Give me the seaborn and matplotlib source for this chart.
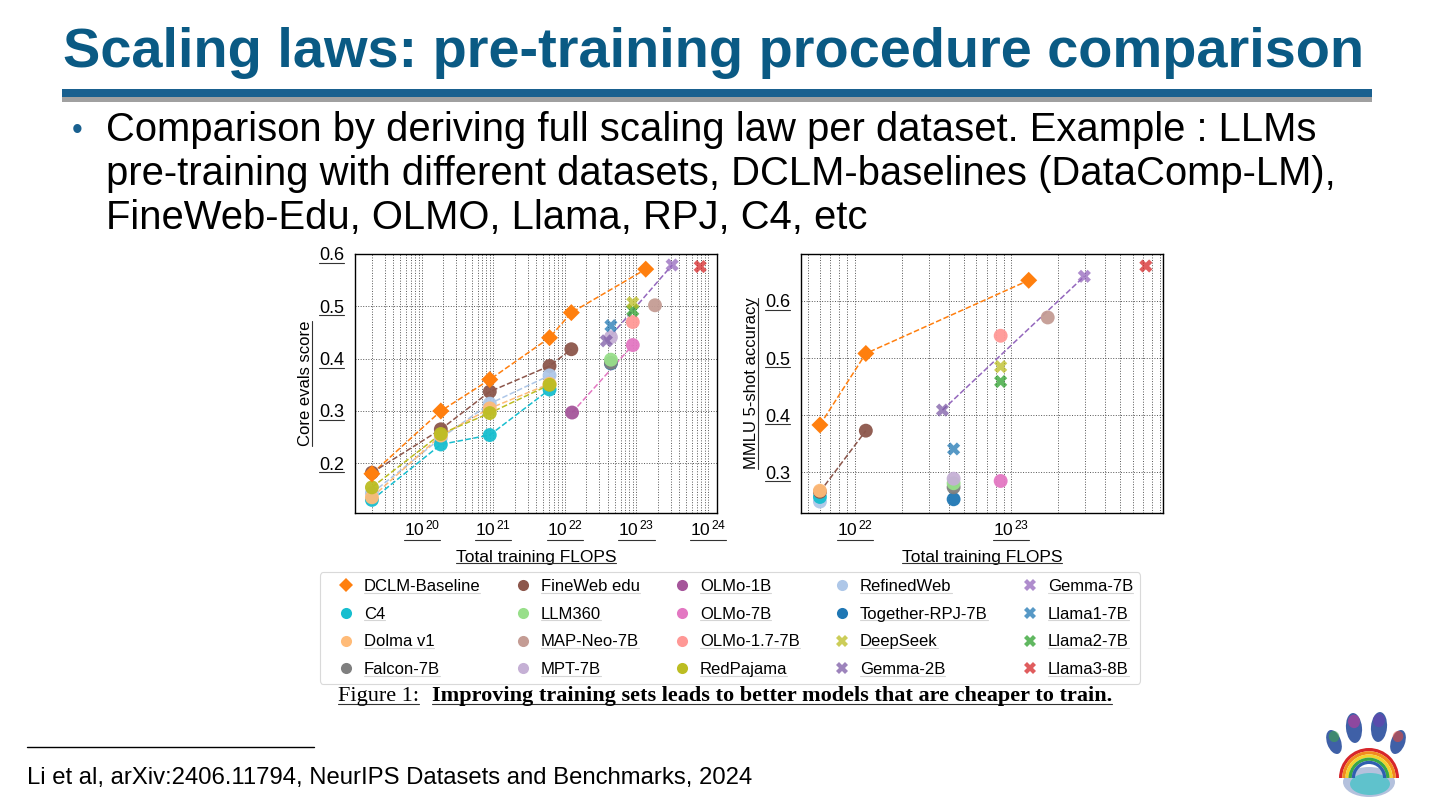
import numpy as np
import pandas as pd
import matplotlib
matplotlib.use("Agg")
import matplotlib.pyplot as plt
import seaborn as sns
from matplotlib.lines import Line2D
from matplotlib.patches import Rectangle, Ellipse, Wedge
from matplotlib.ticker import LogLocator, FixedLocator, FuncFormatter, NullFormatter

W, H = 1440, 811

# legend order (column-major, 5 columns x 4 rows)
models = ["DCLM-Baseline", "C4", "Dolma v1", "Falcon-7B",
          "FineWeb edu", "LLM360", "MAP-Neo-7B", "MPT-7B",
          "OLMo-1B", "OLMo-7B", "OLMo-1.7-7B", "RedPajama",
          "RefinedWeb", "Together-RPJ-7B", "DeepSeek", "Gemma-2B",
          "Gemma-7B", "Llama1-7B", "Llama2-7B", "Llama3-8B"]
model_colors = ["#ff7f0e", "#17becf", "#ffbb78", "#7f7f7f",
                "#8c564b", "#98df8a", "#c49c94", "#c5b0d5",
                "#a5559a", "#e377c2", "#ff9896", "#bcbd22",
                "#aec7e8", "#1f77b4", "#bcbd22", "#7d5ba6",
                "#9467bd", "#1f77b4", "#2ca02c", "#d62728"]
model_markers = ["D", "o", "o", "o",
                 "o", "o", "o", "o",
                 "o", "o", "o", "o",
                 "o", "o", "X", "X",
                 "X", "X", "X", "X"]

# left panel: Core evals score vs total training FLOPS
core_model = ["DCLM-Baseline"] * 6 + ["FineWeb edu"] * 5 + ["RefinedWeb"] * 4 + ["C4"] * 4 \
    + ["Dolma v1"] * 4 + ["RedPajama"] * 4 \
    + ["OLMo-1B", "OLMo-7B", "OLMo-1.7-7B", "Together-RPJ-7B", "Falcon-7B", "LLM360", "MPT-7B",
       "MAP-Neo-7B", "Gemma-2B", "Gemma-7B", "Llama1-7B", "Llama2-7B", "DeepSeek", "Llama3-8B"]
core_flops = [2.0e19, 1.84e20, 8.9e20, 6.1e21, 1.23e22, 1.35e23,
              2.0e19, 1.84e20, 8.9e20, 6.1e21, 1.23e22,
              2.0e19, 1.84e20, 8.9e20, 6.1e21,
              2.0e19, 1.84e20, 8.9e20, 6.1e21,
              2.0e19, 1.84e20, 8.9e20, 6.1e21,
              2.0e19, 1.84e20, 8.9e20, 6.1e21,
              1.26e22, 8.9e22, 8.9e22, 4.4e22, 4.4e22, 4.4e22, 4.4e22,
              1.82e23, 3.8e22, 3.16e23, 4.4e22, 8.9e22, 8.9e22, 7.8e23]
core_score = [0.180, 0.300, 0.360, 0.440, 0.488, 0.571,
              0.182, 0.265, 0.337, 0.386, 0.418,
              0.143, 0.248, 0.314, 0.368,
              0.130, 0.236, 0.254, 0.341,
              0.135, 0.253, 0.305, 0.352,
              0.154, 0.256, 0.296, 0.350,
              0.297, 0.426, 0.470, 0.391, 0.392, 0.398, 0.441,
              0.502, 0.434, 0.579, 0.463, 0.492, 0.507, 0.576]

# right panel: MMLU 5-shot accuracy vs total training FLOPS
mmlu_model = ["DCLM-Baseline"] * 3 + ["RefinedWeb", "C4", "FineWeb edu", "Dolma v1", "FineWeb edu",
                                      "Together-RPJ-7B", "Falcon-7B", "LLM360", "MPT-7B", "Llama1-7B",
                                      "Gemma-2B", "Gemma-7B", "OLMo-7B", "OLMo-1.7-7B", "Llama2-7B",
                                      "DeepSeek", "MAP-Neo-7B", "Llama3-8B"]
mmlu_flops = [6.0e21, 1.18e22, 1.30e23,
              6.0e21, 6.0e21, 6.0e21, 6.0e21, 1.18e22,
              4.3e22, 4.3e22, 4.3e22, 4.3e22, 4.3e22,
              3.65e22, 2.95e23, 8.6e22, 8.6e22, 8.6e22,
              8.6e22, 1.72e23, 7.3e23]
mmlu_acc = [0.383, 0.508, 0.636,
            0.249, 0.257, 0.266, 0.268, 0.373,
            0.253, 0.274, 0.281, 0.289, 0.341,
            0.409, 0.643, 0.285, 0.539, 0.459,
            0.485, 0.571, 0.661]

# models joined by one dashed line although they are separate entries
family = {"OLMo-1B": "OLMo", "OLMo-7B": "OLMo", "Gemma-2B": "Gemma", "Gemma-7B": "Gemma"}
family_colors = {"OLMo": "#e377c2", "Gemma": "#9467bd"}

color_of = dict(zip(models, model_colors))
marker_of = dict(zip(models, model_markers))

sns.set_style("white")
plt.rcParams["font.family"] = ["Liberation Sans", "DejaVu Sans"]
plt.rcParams["mathtext.fontset"] = "custom"
plt.rcParams["mathtext.rm"] = "Liberation Sans"
plt.rcParams["mathtext.it"] = "Liberation Sans:italic"
plt.rcParams["mathtext.bf"] = "Liberation Sans:bold"
for key in ["text.color", "axes.labelcolor", "xtick.color", "ytick.color"]:
    plt.rcParams[key] = "black"

fig = plt.figure(figsize=(W / 100, H / 100), dpi=100)
fig.patch.set_facecolor("white")


def fx(px):
    return px / W


def fy(py):
    return 1 - py / H


def log_label(v, pos):
    return r"$\mathregular{10^{\,%d}}$" % int(round(np.log10(v)))


def draw_panel(ax, model, flops, score, ylabel, xlim, ylim, yticks, xexps):
    df = pd.DataFrame({"model": model, "flops": flops, "score": score})
    df["group"] = df["model"].map(lambda m: family.get(m, m))
    counts = df["group"].value_counts()
    lines = df[df["group"].map(counts) > 1]
    line_pal = {g: family_colors.get(g, color_of.get(g)) for g in lines["group"].unique()}

    ax.set_xscale("log")
    sns.lineplot(data=lines, x="flops", y="score", hue="group", palette=line_pal,
                 estimator=None, sort=True, ls="--", lw=1.1, legend=False, ax=ax, zorder=2)

    for mk, s, alpha, z in [("o", 100, 0.95, 3), ("X", 90, 0.75, 4), ("D", 75, 1.0, 5)]:
        sub = df[df["model"].map(marker_of) == mk]
        sns.scatterplot(data=sub, x="flops", y="score", hue="model", palette=color_of,
                        marker=mk, s=s, alpha=alpha, linewidth=0, legend=False, ax=ax, zorder=z)

    ax.set_xlim(*xlim)
    ax.set_ylim(*ylim)
    ax.xaxis.set_major_locator(FixedLocator([10.0 ** e for e in xexps]))
    ax.xaxis.set_major_formatter(FuncFormatter(log_label))
    ax.xaxis.set_minor_locator(LogLocator(base=10, subs=np.arange(2, 10), numticks=60))
    ax.xaxis.set_minor_formatter(NullFormatter())
    ax.set_yticks(yticks)
    ax.set_yticklabels(["%.1f" % t for t in yticks])
    ax.grid(which="major", ls=":", color="#555555", lw=0.7)
    ax.grid(which="minor", axis="x", ls=":", color="#555555", lw=0.7)
    ax.tick_params(which="both", length=0)
    ax.tick_params(axis="y", labelsize=13, pad=8)
    ax.tick_params(axis="x", labelsize=12.5, pad=4)
    for sp in ax.spines.values():
        sp.set_visible(True)
        sp.set_color("black")
        sp.set_linewidth(1.0)
    ax.set_xlabel("Total training FLOPS", fontsize=12.5, labelpad=8)
    ax.set_ylabel(ylabel, fontsize=12, labelpad=4)


ax1 = fig.add_axes([fx(355), fy(513), 362 / W, 259 / H])
draw_panel(ax1, core_model, core_flops, core_score, "Core evals score",
           (1.16e19, 1.34e24), (0.105, 0.6), [0.2, 0.3, 0.4, 0.5, 0.6], [20, 21, 22, 23, 24])

ax2 = fig.add_axes([fx(801), fy(513), 362 / W, 259 / H])
draw_panel(ax2, mmlu_model, mmlu_flops, mmlu_acc, "MMLU 5-shot accuracy",
           (4.54e21, 9.4e23), (0.229, 0.682), [0.3, 0.4, 0.5, 0.6], [22, 23])

# shared legend
handles = []
for m in models:
    mk = marker_of[m]
    ms = {"o": 8, "D": 7.5, "X": 8.5}[mk]
    handles.append(Line2D([], [], ls="none", marker=mk, ms=ms, mew=0, color=color_of[m],
                          alpha=0.75 if mk == "X" else 1.0))
leg = fig.legend(handles, models, ncol=5, loc="center", bbox_to_anchor=(fx(730), fy(628)),
                 fontsize=12, frameon=True, fancybox=True, handlelength=2.3, handletextpad=-0.08,
                 borderpad=0.4, labelspacing=0.76, columnspacing=1.4, borderaxespad=0)
leg.get_frame().set_edgecolor("#d0d0d0")
leg.get_frame().set_linewidth(0.8)

# caption
cap1 = fig.text(fx(338), fy(701), "Figure 1:", fontsize=16, family="Liberation Serif", va="baseline")
cap2 = fig.text(fx(432), fy(701), "Improving training sets leads to better models that are cheaper to train.",
                fontsize=16, family="Liberation Serif", fontweight="bold", va="baseline")

# slide header
fig.text(fx(63), fy(67), "Scaling laws: pre-training procedure comparison", fontsize=40.3,
         fontweight="bold", color="#0a5a84", va="baseline")
fig.add_artist(Rectangle((fx(62), fy(97)), 1310 / W, 8 / H, transform=fig.transFigure,
                         color="#19608f", lw=0))
fig.add_artist(Rectangle((fx(62), fy(102)), 1310 / W, 5 / H, transform=fig.transFigure,
                         color="#a0a0a0", lw=0))
fig.text(fx(72), fy(139), "\u2022", fontsize=22, color="#19608f", va="baseline")
bullet = ["Comparison by deriving full scaling law per dataset. Example : LLMs",
          "pre-training with different datasets, DCLM-baselines (DataComp-LM),",
          "FineWeb-Edu, OLMO, Llama, RPJ, C4, etc"]
for i, line in enumerate(bullet):
    fig.text(fx(106), fy(141 + 44 * i), line, fontsize=28.8, va="baseline")

# footnote
fig.add_artist(Line2D([fx(27), fx(314)], [fy(747), fy(747)], color="black", lw=1.0))
fig.text(fx(27), fy(784), "Li et al, arXiv:2406.11794, NeurIPS Datasets and Benchmarks, 2024",
         fontsize=17.2, va="baseline")

# rainbow paw logo
lax = fig.add_axes([fx(1310), fy(805), 110 / W, 105 / H])
lax.set_xlim(0, 110)
lax.set_ylim(105, 0)
lax.axis("off")
toes = [((24, 42), 14, 25, -20, "#3fa34d"), ((44, 28), 16, 30, -5, "#c2389a"),
        ((69, 27), 16, 30, 5, "#6a3fb0"), ((88, 42), 14, 25, 20, "#e0483a")]
for (cx, cy), w, h, ang, accent in toes:
    lax.add_patch(Ellipse((cx, cy), w, h, angle=ang, color="#2a4f9e", alpha=0.9, lw=0))
    lax.add_patch(Ellipse((cx, cy - h * 0.22), w * 0.75, h * 0.45, angle=ang, color=accent,
                          alpha=0.6, lw=0))
lax.add_patch(Ellipse((59, 82), 52, 30, color="#2a4f9e", alpha=0.35, lw=0))
lax.add_patch(Ellipse((60, 84), 40, 22, color="#56c3cb", alpha=0.9, lw=0))
bands = ["#d7262b", "#f28c1e", "#f2d22e", "#3aa845", "#2f5fb0"]
for i, c in enumerate(bands):
    lax.add_patch(Wedge((59, 78), 30 - 3.2 * i, 180, 360, width=3.2, color=c, lw=0))

# underline the figure texts as in the pasted figure
fig.canvas.draw()
renderer = fig.canvas.get_renderer()
inv = fig.transFigure.inverted()
to_underline = [cap1, cap2] + list(leg.get_texts())
for ax, lo, hi in [(ax1, 1.16e19, 1.34e24), (ax2, 4.54e21, 9.4e23)]:
    to_underline += [ax.xaxis.label, ax.yaxis.label]
    to_underline += [t for loc, t in zip(ax.get_xticks(), ax.get_xticklabels()) if lo <= loc <= hi]
    ylo, yhi = ax.get_ylim()
    to_underline += [t for loc, t in zip(ax.get_yticks(), ax.get_yticklabels()) if ylo <= loc <= yhi]
for t in to_underline:
    bb = t.get_window_extent(renderer)
    off = -1.5 if "$" in t.get_text() else 0.08 * t.get_fontsize() * 100 / 72
    if abs(t.get_rotation() - 90) < 1:
        pts = inv.transform([(bb.x1 - off, bb.y0), (bb.x1 - off, bb.y1)])
    else:
        pts = inv.transform([(bb.x0, bb.y0 + off), (bb.x1, bb.y0 + off)])
    fig.add_artist(Line2D(pts[:, 0], pts[:, 1], color="#333333", lw=0.8))

fig.savefig("out.png", dpi=100)
